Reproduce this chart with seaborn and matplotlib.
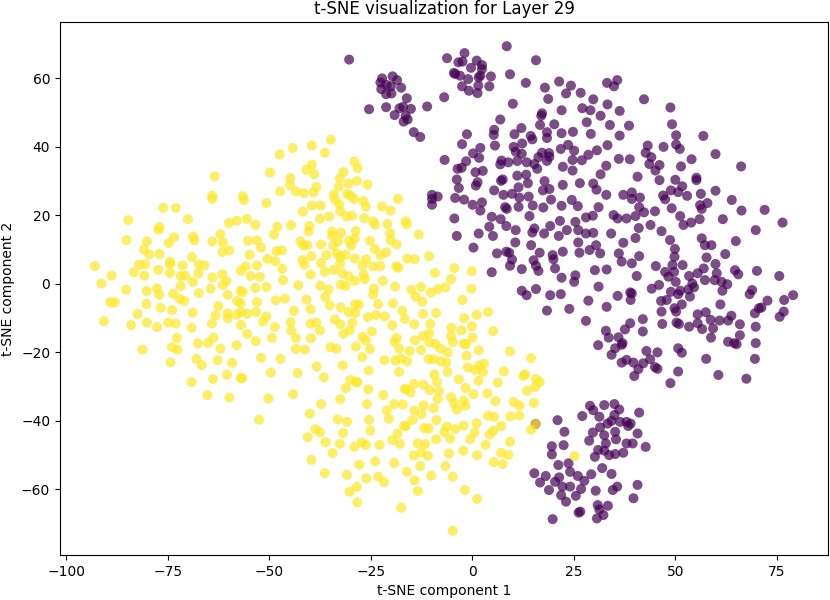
import pandas as pd
import matplotlib
matplotlib.use("Agg")
import matplotlib.pyplot as plt
import seaborn as sns

# points (t-SNE coordinates)
yellow_pts = [
    (-63.4, 31.4), (-64.0, 25.7), (-64.0, 24.8), (-56.5, 25.6), (-56.2, 24.5), (-76.1, 22.2), (-73.0, 22.2),
    (-84.7, 18.6), (-70.0, 18.9), (-59.9, 17.8), (-58.0, 18.4), (-55.5, 19.0), (-77.0, 16.6), (-77.2, 15.8),
    (-85.1, 12.8), (-80.1, 12.4), (-73.4, 13.6), (-74.7, 11.9), (-68.7, 13.8), (-68.4, 12.7), (-64.0, 12.4),
    (-62.0, 14.5), (-61.4, 12.1), (-55.2, 12.6), (-80.8, 10.0), (-79.5, 8.6), (-77.0, 8.7), (-61.5, 9.3),
    (-59.8, 9.8), (-54.8, 8.5), (-92.9, 5.2), (-82.0, 5.6), (-80.5, 5.7), (-74.4, 6.4), (-74.4, 5.7),
    (-71.3, 5.4), (-69.0, 7.8), (-67.3, 5.7), (-65.9, 5.4), (-88.8, 2.4), (-83.3, 3.4), (-80.7, 2.4),
    (-77.3, 4.1), (-74.4, 3.2), (-71.8, 2.3), (-70.7, 2.4), (-67.4, 3.1), (-64.0, 1.9), (-61.5, 2.8),
    (-60.5, 0.8), (-57.0, 3.8), (-55.8, 5.1), (-54.6, 2.3), (-91.3, 0.1), (-85.2, -1.7), (-80.2, -2.1),
    (-77.6, -1.3), (-77.1, -3.2), (-73.6, -2.9), (-71.8, -0.6), (-68.8, 0.6), (-67.3, -2.7), (-64.4, -1.4),
    (-61.4, -0.3), (-60.2, -3.2), (-57.0, -2.0), (-56.5, -2.4), (-89.1, -5.4), (-88.0, -5.4), (-80.2, -5.9),
    (-76.7, -7.0), (-73.9, -7.7), (-72.0, -4.4), (-70.9, -5.0), (-68.8, -8.4), (-62.5, -6.5), (-57.9, -5.0),
    (-57.0, -5.6), (-82.4, -8.8), (-63.2, -9.2), (-60.2, -8.6), (-60.2, -10.0), (-57.9, -9.0), (-57.0, -8.2),
    (-55.4, -8.7), (-90.7, -10.9), (-84.0, -12.0), (-80.1, -11.3), (-77.6, -12.6), (-74.9, -11.3),
    (-73.0, -11.6), (-69.1, -12.8), (-64.1, -11.6), (-56.9, -12.0), (-55.4, -14.6), (-72.7, -15.8),
    (-73.9, -18.5), (-72.6, -19.2), (-67.5, -17.4), (-65.0, -17.3), (-63.7, -15.7), (-62.0, -18.9),
    (-58.0, -17.9), (-81.2, -19.2), (-74.3, -22.9), (-67.9, -21.9), (-66.6, -23.7), (-62.7, -22.3),
    (-59.1, -23.1), (-69.1, -28.7), (-63.8, -27.8), (-60.4, -26.5), (-57.0, -27.5), (-65.2, -32.5),
    (-59.8, -33.2),
    (-34.8, 42.1), (-39.5, 40.4), (-44.2, 39.7), (-47.4, 37.8), (-36.3, 38.3), (-49.8, 32.5), (-40.8, 33.3),
    (-39.5, 34.8), (-38.9, 32.0), (-44.8, 30.9), (-44.9, 28.9), (-47.3, 27.0), (-43.4, 27.0), (-41.5, 26.5),
    (-39.1, 26.7), (-38.4, 28.3), (-50.7, 23.6), (-41.7, 21.1), (-39.5, 22.9), (-37.3, 22.9), (-37.5, 19.0),
    (-35.2, 19.7), (-29.0, 35.7), (-28.2, 33.8), (-31.7, 32.7), (-32.6, 30.9), (-28.4, 30.0), (-30.5, 29.3),
    (-32.9, 28.4), (-34.1, 26.1), (-33.8, 24.6), (-30.8, 26.3), (-30.0, 25.8), (-29.1, 24.8), (-25.8, 29.0),
    (-26.8, 24.2), (-26.2, 22.6), (-32.7, 23.2), (-32.5, 21.2), (-31.0, 19.7), (-29.6, 19.9), (-26.6, 19.2),
    (-24.4, 18.3), (-23.9, 17.3), (-22.2, 22.6), (-20.1, 21.4), (-18.3, 24.8), (-20.9, 17.5), (-16.4, 18.3),
    (-16.1, 17.4), (-53.4, 17.3), (-48.0, 16.7), (-48.8, 14.4), (-44.6, 17.2), (-40.1, 16.9), (-40.3, 15.3),
    (-34.5, 15.3), (-34.5, 14.0), (-32.3, 14.9), (-28.7, 15.4), (-28.9, 13.2), (-25.2, 12.6), (-20.2, 14.8),
    (-20.1, 12.8), (-18.6, 11.5), (-53.0, 12.7), (-52.0, 10.6), (-42.3, 12.4), (-41.6, 11.2), (-40.6, 11.3),
    (-37.2, 11.5), (-34.2, 11.1), (-33.0, 12.4), (-30.3, 12.6), (-29.8, 11.2), (-33.3, 8.8), (-32.5, 7.8),
    (-31.2, 8.5), (-24.0, 10.2), (-22.6, 8.4), (-21.2, 9.2), (-50.4, 7.3), (-48.2, 9.6), (-46.8, 9.8),
    (-48.5, 6.6), (-41.8, 7.0), (-41.3, 5.6), (-39.6, 8.1), (-37.2, 6.1), (-35.9, 8.4), (-32.5, 5.9),
    (-28.9, 7.4), (-26.1, 7.2), (-27.0, 5.4), (-24.4, 5.1), (-22.6, 5.2), (-18.7, 5.1), (-18.2, 4.7),
    (-16.0, 7.4), (-53.0, 5.4), (-46.8, 4.4), (-52.3, 2.0), (-46.6, 1.1), (-39.8, 2.7), (-36.3, 3.5),
    (-34.1, 4.1), (-32.0, 3.1), (-30.4, 2.2), (-28.9, 0.9), (-26.7, 2.7), (-26.4, 1.4), (-22.0, 0.9),
    (-19.0, -0.8), (-53.4, -1.2), (-50.7, -0.9), (-42.8, -0.4), (-37.4, -0.5), (-35.4, -1.6), (-32.4, -0.2),
    (-31.2, -0.6), (-24.2, -1.4), (-24.4, -3.1), (-53.0, -5.3), (-48.4, -4.8), (-46.1, -4.3), (-40.8, -4.6),
    (-36.2, -3.8), (-35.1, -6.2), (-32.4, -6.9), (-30.4, -8.2), (-28.8, -6.0), (-27.9, -6.0), (-23.2, -5.9),
    (-19.5, -5.7), (-17.2, -7.9), (-53.2, -8.2), (-50.7, -9.5), (-43.9, -7.9), (-39.8, -7.4), (-51.5, -11.0),
    (-44.7, -11.2), (-39.8, -11.6), (-38.4, -11.3), (-37.5, -13.6), (-33.8, -10.4), (-32.5, -11.8),
    (-29.5, -11.4), (-28.8, -8.5), (-25.7, -9.7), (-23.7, -9.1), (-21.5, -9.5), (-19.7, -12.1),
    (-16.6, -10.2), (-48.6, -12.6), (-44.6, -13.6), (-31.7, -14.6), (-30.2, -13.6), (-27.0, -15.5),
    (-24.7, -13.9),
    (-53.3, -16.7), (-49.3, -15.8), (-43.4, -15.8), (-39.7, -15.9), (-26.2, -16.5), (-18.6, -15.8),
    (-19.1, -16.9), (-43.4, -19.0), (-41.2, -19.2), (-34.9, -18.5), (-33.4, -18.9), (-28.6, -18.3),
    (-25.2, -19.0), (-18.0, -18.9), (-52.0, -21.6), (-47.2, -21.9), (-27.1, -21.4), (-21.6, -22.3),
    (-18.9, -22.4), (-17.5, -21.8), (-56.6, -27.6), (-49.6, -25.9), (-43.0, -26.0), (-38.3, -24.1),
    (-36.5, -27.3), (-31.9, -23.8), (-25.5, -25.3), (-18.0, -25.7), (-30.0, -28.0), (-28.6, -28.6),
    (-28.3, -28.8), (-31.1, -30.4), (-25.6, -30.8), (-21.9, -32.5), (-16.6, -30.7), (-50.2, -33.5),
    (-44.1, -32.2), (-37.2, -35.1), (-32.5, -33.7), (-25.9, -35.1), (-21.0, -36.9), (-19.2, -35.1),
    (-17.1, -35.2), (-40.0, -37.9), (-52.5, -39.7), (-33.1, -39.6), (-30.8, -40.3), (-25.4, -39.7),
    (-20.5, -39.4), (-16.8, -41.5), (-38.6, -42.4), (-37.5, -43.4), (-31.8, -43.5), (-25.1, -42.8),
    (-18.4, -43.7), (-40.5, -44.8), (-36.1, -46.2), (-32.6, -46.7), (-29.0, -47.6), (-27.2, -46.3),
    (-26.2, -47.0), (-22.8, -47.0), (-19.7, -45.6), (-17.8, -46.7), (-34.4, -49.4), (-39.6, -51.4),
    (-27.8, -52.8), (-23.9, -51.8), (-19.2, -52.3), (-36.3, -55.3), (-30.9, -55.8), (-26.1, -56.8),
    (-23.1, -56.3), (-21.7, -57.9), (-28.4, -59.3), (-30.2, -60.7), (-28.3, -63.8), (-17.5, -65.4),
    (-13.2, 14.4), (-14.2, 7.2), (-10.6, 8.1), (-4.4, 4.6), (-9.2, 3.2), (-0.1, 3.7), (-5.2, 1.4),
    (-15.0, -1.7), (-12.6, -0.9), (-10.2, -2.5), (-8.4, -1.5), (-6.6, -1.0), (-13.9, -3.7), (-12.3, -5.2),
    (-0.2, -1.4), (-2.4, -4.7), (-12.1, -8.8), (-8.9, -8.5), (1.1, -9.0), (3.9, -8.2), (-14.3, -11.8),
    (-10.3, -11.7), (-2.0, -10.0), (-5.1, -12.8), (-2.7, -13.6), (-0.1, -12.4), (5.2, -13.8), (-14.1, -16.5),
    (-12.1, -15.2), (-10.6, -14.5), (-10.6, -17.1), (-9.1, -17.5), (-7.8, -18.9), (-6.0, -20.0),
    (-5.2, -15.2), (-4.8, -17.0), (-2.1, -17.5), (-1.5, -17.6), (0.1, -15.7), (-15.4, -19.6), (-12.6, -19.3),
    (-16.0, -22.6), (-10.7, -22.0), (-9.5, -22.0), (-7.7, -22.6), (-6.4, -23.0), (-1.4, -21.0), (1.6, -19.4),
    (9.3, -19.7), (14.5, -21.7), (-1.1, -24.4), (0.7, -25.1), (1.7, -23.8), (2.9, -23.3), (2.7, -25.7),
    (-6.1, -25.7), (-9.3, -26.5), (7.8, -25.5), (6.3, -28.8), (1.5, -28.3), (-3.3, -27.9), (12.6, -26.9),
    (13.0, -26.4), (15.7, -27.8), (16.6, -28.7), (15.5, -30.1), (13.5, -31.2), (-14.3, -29.2),
    (-12.0, -29.4), (-8.7, -28.6), (-10.5, -31.0), (-8.2, -31.3), (-16.2, -30.8), (-15.2, -31.7),
    (-8.5, -33.6), (-5.2, -33.1), (-4.4, -34.9), (-3.8, -36.7), (-2.1, -34.1), (-1.7, -35.6), (-1.6, -30.4),
    (0.3, -32.2), (3.7, -32.0), (5.7, -34.2), (10.2, -34.5), (11.6, -35.5), (15.2, -34.8), (-12.0, -35.5),
    (-9.5, -36.3), (-14.2, -37.0), (-12.5, -38.1), (-8.8, -39.8), (-16.3, -41.5), (-14.7, -39.8),
    (-6.2, -41.7), (-4.2, -42.4), (-2.1, -41.4), (1.1, -40.7), (3.9, -38.5), (5.4, -38.8), (7.1, -41.5),
    (9.4, -38.7), (11.6, -38.4), (14.5, -42.6), (-11.8, -42.1), (-10.7, -42.2), (-6.9, -43.3), (-5.4, -45.2),
    (-8.9, -45.4), (0.6, -43.4), (4.3, -44.0), (5.2, -42.9), (-13.4, -46.6), (-11.6, -46.8), (-0.5, -45.4),
    (3.3, -47.0), (9.3, -46.1), (-14.4, -50.1), (-12.5, -49.3), (-10.9, -50.2), (-5.7, -49.5), (-2.2, -48.7),
    (1.2, -50.0), (7.1, -49.3), (8.9, -50.0), (-16.1, -54.9), (-12.8, -53.2), (-6.6, -53.2), (5.3, -52.0),
    (7.5, -52.6), (-14.2, -57.4), (-10.1, -56.0), (-4.8, -56.3), (-13.4, -60.5), (-1.8, -60.2),
    (1.2, -62.8), (-4.8, -72.1), (15.6, -40.9), (25.2, -50.3),
]

purple_top_blob = [
    (-30.3, 65.5), (-22.2, 60.0), (-19.6, 60.6), (-22.6, 58.8), (-21.1, 58.1), (-20.0, 57.7), (-18.5, 59.5),
    (-17.5, 57.3), (-22.4, 56.9), (-21.2, 55.4), (-19.9, 55.6), (-16.1, 54.2), (-17.0, 51.7), (-17.9, 51.3),
    (-15.1, 51.1), (-19.1, 49.3), (-16.4, 49.1), (-16.9, 47.4), (-15.9, 48.0), (-25.4, 51.0), (-21.2, 51.6),
    (-11.1, 51.8), (-6.9, 54.5), (-14.4, 44.3), (-12.8, 42.9),
]

purple_main = [
    (-6.2, 65.9), (-1.9, 67.4), (8.5, 69.4), (15.7, 65.3), (-3.4, 64.7), (-2.4, 64.9), (1.1, 65.2), (2.4, 63.9),
    (-0.3, 63.1), (-4.5, 61.6), (-4.2, 61.3), (-3.0, 60.8), (-1.0, 59.8), (2.0, 60.8), (2.4, 62.7), (1.6, 60.3),
    (4.6, 60.6), (9.3, 61.2), (-2.5, 57.7), (-0.8, 56.4), (1.3, 55.7), (1.5, 57.9), (4.2, 57.7), (13.2, 58.7),
    (17.9, 57.3), (21.4, 59.1), (24.3, 57.9), (23.1, 55.6), (18.7, 54.0), (10.0, 52.6), (22.0, 50.7),
    (17.0, 49.1), (17.2, 49.8), (16.7, 46.4), (20.2, 46.6), (6.9, 48.0), (5.4, 45.0), (5.3, 43.5), (5.6, 40.4),
    (-1.3, 43.7), (-2.5, 40.8), (-6.8, 36.2), (10.4, 43.7), (12.1, 45.5), (14.4, 43.2), (14.8, 42.2),
    (10.2, 40.0), (12.3, 41.0), (10.7, 38.6), (12.2, 38.0), (8.9, 35.5), (6.9, 34.9), (7.2, 36.0), (11.1, 35.9),
    (13.4, 35.5), (16.3, 37.0), (17.2, 38.3), (18.9, 38.2), (19.0, 37.1), (18.4, 35.9), (15.3, 35.0),
    (16.0, 33.6), (18.4, 44.3), (18.4, 42.6), (22.0, 44.0), (24.8, 44.4), (21.8, 39.4), (23.6, 40.6),
    (25.1, 38.9), (22.3, 34.2), (24.7, 36.2), (24.7, 33.1), (2.0, 39.7), (1.7, 36.8), (0.2, 38.1), (-1.5, 35.8),
    (-3.6, 33.6), (-2.6, 33.9), (0.8, 32.6), (1.3, 29.7), (0.9, 28.7), (2.6, 33.0), (-3.8, 30.5), (-3.3, 28.0),
    (7.1, 30.1), (7.5, 30.5), (5.4, 27.3), (11.1, 31.6), (13.3, 31.9), (11.4, 28.2), (13.7, 29.4), (17.8, 30.0),
    (17.4, 27.3), (19.0, 27.7), (22.3, 28.9), (9.8, 26.3), (7.7, 26.0), (11.6, 25.2), (13.9, 25.5), (19.4, 24.6),
    (24.5, 24.5), (-9.9, 26.0), (-9.9, 24.8), (-8.5, 25.5), (-9.9, 23.1), (-4.2, 25.1), (-2.0, 24.6),
    (2.4, 23.8), (2.0, 21.4), (0.1, 23.1), (8.1, 22.4), (8.5, 21.9), (11.4, 22.5), (14.9, 22.9), (17.5, 22.3),
    (22.0, 22.8),
    (33.2, 58.7), (35.7, 59.5), (34.9, 57.7), (26.7, 55.8), (42.3, 53.9), (29.8, 53.9), (33.3, 52.4),
    (27.1, 51.3), (29.1, 50.7), (36.3, 50.5), (48.8, 51.5), (31.6, 49.1), (28.2, 47.2), (33.9, 46.4),
    (38.6, 46.2), (49.2, 46.6), (29.2, 43.8), (36.3, 43.3), (50.2, 43.4), (56.9, 43.2), (43.2, 40.4),
    (47.1, 40.0), (50.2, 40.7), (51.1, 39.4), (42.7, 38.3), (33.3, 40.5), (30.7, 39.0), (28.6, 37.7),
    (27.0, 36.1), (36.1, 36.5), (38.8, 36.4), (44.1, 37.0), (43.6, 35.0), (46.1, 34.7), (45.1, 33.1),
    (51.4, 34.3), (54.0, 36.4), (59.9, 37.9), (66.2, 34.3), (33.0, 34.5), (31.6, 32.0), (40.7, 31.3),
    (46.1, 30.3), (50.0, 30.4), (55.2, 31.0), (55.2, 30.3), (51.7, 28.5), (26.5, 29.4), (29.8, 29.3),
    (30.6, 27.5), (33.0, 26.0), (37.2, 26.0), (39.3, 26.7), (39.3, 24.8), (41.3, 25.2), (47.0, 25.8),
    (47.5, 24.7), (48.9, 27.3), (50.7, 26.8), (52.9, 25.7), (56.3, 26.3), (59.9, 27.2), (57.9, 23.6),
    (56.1, 23.0), (56.5, 21.9), (63.9, 24.5), (66.3, 21.4), (72.0, 21.6), (49.1, 22.1), (45.0, 21.2),
    (41.1, 22.4), (42.3, 20.9), (31.1, 22.4), (26.0, 22.7),
    (-4.4, 19.1), (4.8, 19.6), (7.0, 18.9), (14.1, 19.8), (21.6, 18.4), (25.4, 18.1), (28.0, 19.4),
    (29.7, 19.9), (34.8, 20.1), (4.2, 16.7), (8.4, 16.9), (10.7, 15.7), (1.6, 14.7), (5.1, 14.0), (-3.8, 14.0),
    (15.3, 16.2), (14.8, 15.0), (17.7, 14.7), (19.2, 16.9), (21.3, 14.0), (23.3, 15.7), (26.1, 15.7),
    (28.0, 14.7), (29.8, 14.9), (34.2, 14.7), (10.6, 12.1), (14.5, 11.3), (26.1, 12.1), (30.5, 11.3),
    (0.3, 10.6), (6.1, 8.9), (8.4, 9.4), (9.1, 9.1), (9.8, 7.1), (9.3, 5.3), (12.2, 4.3), (15.1, 6.9),
    (15.7, 5.3), (16.3, 3.8), (16.6, 9.1), (19.8, 8.4), (20.0, 7.2), (22.3, 9.4), (26.4, 9.1), (28.9, 9.9),
    (31.5, 8.9), (4.8, 3.4), (20.4, 4.5), (22.0, 1.8), (25.4, 2.5), (25.1, 0.6), (30.2, 4.0), (33.1, 4.2),
    (31.1, -0.8), (12.2, -2.0), (13.4, -3.3), (15.7, -1.5), (19.2, -3.3), (21.8, -3.0), (18.4, -7.8),
    (23.9, -7.3), (28.6, -4.9), (33.1, -6.7), (28.0, -10.8), (32.9, -13.7), (33.6, -15.7), (31.0, -17.9),
    (35.2, -18.8), (34.3, -20.7),
    (35.8, 19.1), (38.0, 19.1), (40.2, 19.8), (51.2, 19.8), (53.9, 17.9), (52.0, 17.2), (56.0, 18.9),
    (61.7, 18.9), (76.4, 17.9), (69.8, 15.7), (41.0, 16.3), (43.9, 17.2), (46.6, 15.4), (40.2, 13.4),
    (37.2, 12.0), (36.1, 8.9), (36.8, 6.5), (39.3, 6.0), (41.1, 8.1), (40.5, 2.3), (48.7, 12.8), (49.9, 10.2),
    (49.8, 7.9), (56.5, 13.3), (57.3, 11.3), (58.9, 11.3), (64.9, 12.5), (62.3, 8.7), (57.7, 7.7), (59.9, 5.8),
    (45.2, 5.2), (47.5, 3.5), (49.3, 5.5), (51.8, 5.5), (49.7, 3.5), (48.3, 2.1), (50.1, 0.6), (53.4, 2.3),
    (55.5, 3.1), (57.0, 4.5), (57.3, 1.1), (59.7, 1.1), (60.2, 3.1), (61.4, 0.6), (62.8, -0.1), (64.7, 4.0),
    (65.5, 2.8), (70.1, 3.8), (75.6, 2.3), (61.6, -2.0), (54.2, 0.1), (54.6, -1.0), (53.6, -3.7), (53.2, -1.6),
    (51.2, -2.0), (50.7, -3.0), (48.9, -2.3), (47.9, -4.7), (46.5, -5.0), (44.2, -1.4), (46.0, -0.3),
    (38.9, -2.5), (39.3, -2.8), (39.0, -4.7), (35.8, -3.5), (46.6, -8.1), (49.8, -7.1), (50.2, -8.1),
    (51.6, -6.0), (61.1, -6.0), (68.3, -3.0), (68.9, -1.8), (72.7, -4.9), (76.8, -4.7), (79.0, -3.3),
    (70.6, -7.1), (71.2, -6.9), (69.6, -8.6), (76.7, -8.1), (75.7, -9.6), (46.8, -11.7), (50.3, -11.3),
    (50.9, -11.7), (53.4, -12.5), (55.5, -8.9), (55.5, -11.5), (57.5, -8.3), (58.7, -10.5), (56.6, -13.2),
    (59.3, -13.0), (60.9, -10.7), (63.0, -10.7), (63.8, -9.3), (65.9, -11.8), (69.8, -12.5), (42.0, -10.3),
    (42.0, -13.9), (38.9, -11.5), (37.6, -13.3), (36.0, -15.6), (36.8, -17.8), (37.0, -17.3), (58.8, -15.7),
    (63.0, -16.9), (65.1, -17.6), (64.5, -17.3), (65.9, -15.0), (69.8, -17.3), (50.7, -18.8), (51.6, -20.1),
    (42.9, -19.6), (45.6, -20.0), (43.8, -22.0), (42.1, -23.2), (40.9, -24.9), (39.7, -23.0), (38.0, -22.2),
    (36.8, -23.0), (39.9, -26.9), (45.0, -24.3), (45.6, -24.8), (57.6, -21.9), (69.6, -21.9), (50.7, -25.6),
    (60.6, -26.6), (67.5, -27.7), (48.8, -29.0),
]

purple_low_blob = [
    (15.6, -40.9), (21.0, -39.8), (22.7, -43.2), (19.6, -47.4), (19.6, -49.8), (22.5, -47.1), (15.3, -55.3),
    (18.1, -56.1), (16.7, -58.0), (18.9, -60.2), (20.4, -57.8), (21.4, -56.5), (21.2, -52.9), (23.7, -52.4),
    (24.1, -54.9), (26.0, -56.1), (27.6, -57.5), (29.3, -55.6), (22.2, -59.2), (24.1, -59.2), (26.8, -59.9),
    (25.5, -61.9), (21.9, -61.7), (23.1, -63.6), (26.6, -66.5), (26.2, -66.8), (19.8, -68.7), (30.4, -60.4),
    (32.0, -53.8), (34.3, -55.5), (35.7, -59.2), (34.6, -60.2), (40.7, -58.7), (39.7, -62.6), (30.9, -64.6),
    (31.3, -65.9), (32.3, -67.5), (33.4, -64.8), (30.7, -68.5), (27.1, -38.6), (29.0, -35.6), (29.8, -36.9),
    (31.3, -38.8), (32.5, -35.4), (35.0, -35.1), (36.2, -36.7), (35.0, -38.3), (34.3, -40.0), (36.4, -40.3),
    (38.0, -40.3), (38.4, -41.5), (39.0, -40.8), (33.3, -40.8), (31.5, -41.9), (29.7, -43.4), (28.8, -45.8),
    (32.5, -44.2), (35.2, -43.2), (35.4, -45.4), (32.9, -46.6), (38.0, -46.6), (39.5, -46.6), (40.7, -43.7),
    (41.1, -37.6), (42.7, -47.6), (37.2, -49.3), (35.2, -49.7), (33.7, -50.0), (32.5, -48.7), (31.0, -48.5),
    (30.2, -50.5),
]

palette = {0: "#440154", 1: "#fde725"}

purple = purple_top_blob + purple_main + purple_low_blob
rows = [(x, y, 0) for x, y in purple] + [(x, y, 1) for x, y in yellow_pts]
df = pd.DataFrame(rows, columns=["x", "y", "label"])

fig, ax = plt.subplots(figsize=(8.3, 6.0), dpi=100)
sns.scatterplot(data=df, x="x", y="y", hue="label", palette=palette, s=52, alpha=0.7,
                linewidth=0, legend=False, ax=ax)
ax.set_title("t-SNE visualization for Layer 29")
ax.set_xlabel("t-SNE component 1")
ax.set_ylabel("t-SNE component 2")
fig.subplots_adjust(left=60 / 830, right=828 / 830, top=1 - 22 / 600, bottom=1 - 555 / 600)
fig.savefig("out.png", dpi=100)
